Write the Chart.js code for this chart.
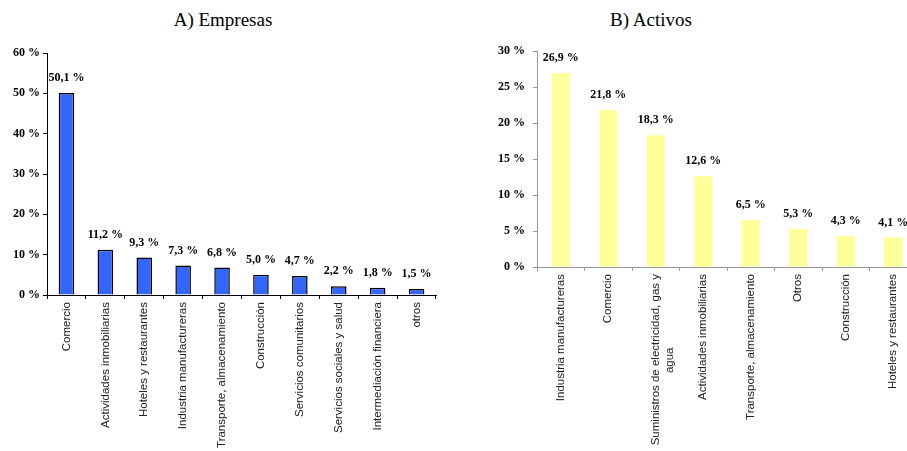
<!DOCTYPE html>
<html>
<head>
<meta charset="utf-8">
<script src="https://cdn.jsdelivr.net/npm/chart.js@4.4.1/dist/chart.umd.min.js"></script>
<style>
  html, body { margin: 0; padding: 0; background: #fff; overflow: hidden; width: 907px; height: 451px; }
  .title { position: absolute; top: 9px; font-family: "Liberation Serif", serif; font-size: 19px; color: #000; transform: translateX(-50%); white-space: nowrap; }
  canvas { position: absolute; top: 0; }
</style>
</head>
<body>
<div class="title" style="left:223px">A) Empresas</div>
<div class="title" style="left:651px">B) Activos</div>
<canvas id="chartA" width="450" height="451" style="left:0"></canvas>
<canvas id="chartB" width="470" height="451" style="left:460px"></canvas>
<script>
// A) Empresas
const empresasLabels = ['Comercio', 'Actividades inmobiliarias', 'Hoteles y restaurantes', 'Industria manufactureras',
  'Transporte, almacenamiento', 'Construcción', 'Servicios comunitarios', 'Servicios sociales y salud',
  'Intermediación financiera', 'otros'];
const empresasValues = [50.1, 11.2, 9.3, 7.3, 6.8, 5.0, 4.7, 2.2, 1.8, 1.5];
const empresasTicks = [0, 10, 20, 30, 40, 50, 60];

// B) Activos
const activosLabels = ['Industria manufactureras', 'Comercio', ['Suministros de electricidad, gas y', 'agua'],
  'Actividades inmobiliarias', 'Transporte, almacenamiento', 'Otros', 'Construcción', 'Hoteles y restaurantes'];
const activosValues = [26.9, 21.8, 18.3, 12.6, 6.5, 5.3, 4.3, 4.1];
const activosTicks = [0, 5, 10, 15, 20, 25, 30];

const catFont = { family: '"Liberation Sans", Arial, sans-serif', size: 11.5 };
const numFont = { family: '"Liberation Serif", "Times New Roman", serif', size: 12, weight: 'bold' };

const fmt = v => v.toFixed(1).replace('.', ',') + ' %';

// value labels above bars
const valueLabels = {
  id: 'valueLabels',
  afterDatasetsDraw(chart) {
    const ctx = chart.ctx;
    const meta = chart.getDatasetMeta(0);
    ctx.save();
    ctx.font = 'bold 12px "Liberation Serif", serif';
    ctx.fillStyle = '#000';
    ctx.textAlign = 'center';
    ctx.textBaseline = 'middle';
    meta.data.forEach((bar, i) => {
      ctx.fillText(fmt(chart.data.datasets[0].data[i]), bar.x, bar.y - 15);
    });
    ctx.restore();
  }
};

// centre the shorter lines of a wrapped rotated label (chart.js right-aligns them)
const measure = document.createElement('canvas').getContext('2d');
function centreLines(label) {
  if (!Array.isArray(label)) return label;
  measure.font = '11.5px "Liberation Sans", Arial, sans-serif';
  const widths = label.map(s => measure.measureText(s).width);
  const max = Math.max(...widths);
  const sp = measure.measureText('\u00a0').width;
  return label.map((s, i) => s + '\u00a0'.repeat(Math.round((max - widths[i]) / 2 / sp)));
}

function makeChart(id, labels, values, ticks, opt) {
  return new Chart(document.getElementById(id), {
    type: 'bar',
    data: {
      labels: labels,
      datasets: [{
        data: values,
        backgroundColor: opt.color,
        borderColor: opt.border,
        borderWidth: opt.borderWidth,
        barPercentage: opt.barPct,
        categoryPercentage: 1
      }]
    },
    options: {
      responsive: false,
      animation: false,
      layout: { padding: { top: opt.top, right: opt.right, left: 0, bottom: 0 } },
      plugins: { legend: { display: false }, tooltip: { enabled: false } },
      scales: {
        x: {
          afterFit: s => { s.height = opt.xHeight; },
          border: { color: opt.axis, width: 1 },
          grid: { display: true, drawOnChartArea: false, color: opt.axis, tickLength: 4 },
          ticks: {
            autoSkip: false, maxRotation: 90, minRotation: 90, padding: 3,
            color: '#222', font: catFont,
            callback: function (v, i) { return centreLines(labels[i]); }
          }
        },
        y: {
          min: 0, max: ticks[ticks.length - 1],
          afterFit: s => { s.width = opt.yWidth; },
          afterBuildTicks: s => { s.ticks = ticks.map(v => ({ value: v })); },
          border: { color: opt.axis, width: 1 },
          grid: { display: true, drawOnChartArea: false, color: opt.axis, tickLength: 4 },
          ticks: {
            padding: opt.yPad, color: '#000', font: numFont,
            callback: v => v + ' %'
          }
        }
      }
    },
    plugins: [valueLabels]
  });
}

makeChart('chartA', empresasLabels, empresasValues, empresasTicks, {
  color: '#3366FF', border: '#000', borderWidth: 1.5, barPct: 0.4,
  axis: '#000', top: 53, right: 14, xHeight: 156, yWidth: 47, yPad: 3
});

makeChart('chartB', activosLabels, activosValues, activosTicks, {
  color: '#FFFF99', border: '#FFFF99', borderWidth: 0, barPct: 0.38,
  axis: '#999', top: 51, right: 13, xHeight: 184, yWidth: 77, yPad: 8
});
</script>
</body>
</html>
